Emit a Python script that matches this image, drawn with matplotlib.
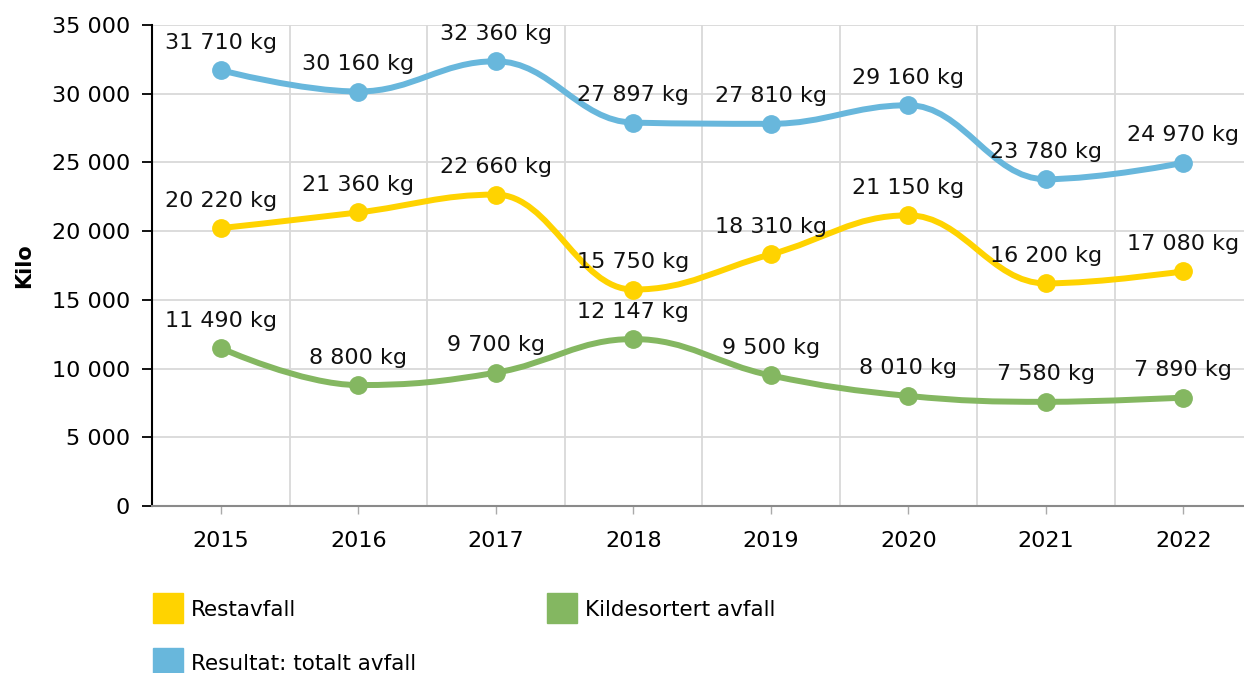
import matplotlib
matplotlib.use('Agg')
import matplotlib.pyplot as plt
from matplotlib.path import Path
from matplotlib.patches import PathPatch
from matplotlib.lines import Line2D
from matplotlib.ticker import FuncFormatter

plt.rcParams['font.family'] = ['DejaVu Sans']

years = ['2015', '2016', '2017', '2018', '2019', '2020', '2021', '2022']
restavfall = [20220, 21360, 22660, 15750, 18310, 21150, 16200, 17080]
kildesortert = [11490, 8800, 9700, 12147, 9500, 8010, 7580, 7890]
totalt = [31710, 30160, 32360, 27897, 27810, 29160, 23780, 24970]

series = [
    ('Restavfall', restavfall, '#ffd300'),
    ('Resultat: totalt avfall', totalt, '#68b7dc'),
    ('Kildesortert avfall', kildesortert, '#84b761'),
]


def fmt_num(v):
    return f'{int(v):,}'.replace(',', ' ')


def spline_path(xs, ys, smoothing=1.5):
    """Highcharts-lignende spline med bezier-kontrollpunkter."""
    n = len(xs)
    ctrl = []
    for i in range(n):
        x, y = xs[i], ys[i]
        if 0 < i < n - 1:
            px, py = xs[i - 1], ys[i - 1]
            nx, ny = xs[i + 1], ys[i + 1]
            d = smoothing + 1
            lcx = (smoothing * x + px) / d
            lcy = (smoothing * y + py) / d
            rcx = (smoothing * x + nx) / d
            rcy = (smoothing * y + ny) / d
            if rcx != lcx:
                corr = (rcy - lcy) * (rcx - x) / (rcx - lcx) + y - rcy
                lcy += corr
                rcy += corr
            if lcy > py and lcy > y:
                lcy = max(py, y)
                rcy = 2 * y - lcy
            elif lcy < py and lcy < y:
                lcy = min(py, y)
                rcy = 2 * y - lcy
            if rcy > ny and rcy > y:
                rcy = max(ny, y)
                lcy = 2 * y - rcy
            elif rcy < ny and rcy < y:
                rcy = min(ny, y)
                lcy = 2 * y - rcy
        else:
            lcx, lcy, rcx, rcy = x, y, x, y
        ctrl.append((lcx, lcy, rcx, rcy))

    verts = [(xs[0], ys[0])]
    codes = [Path.MOVETO]
    for i in range(1, n):
        verts += [(ctrl[i - 1][2], ctrl[i - 1][3]), (ctrl[i][0], ctrl[i][1]), (xs[i], ys[i])]
        codes += [Path.CURVE4] * 3
    return Path(verts, codes)


fig = plt.figure(figsize=(12.44, 6.73), dpi=100)
ax = fig.add_axes([152 / 1244, 167 / 673, 1100 / 1244, 481 / 673])

x = list(range(len(years)))

for name, vals, color in series:
    ax.add_patch(PathPatch(spline_path(x, vals), facecolor='none', edgecolor=color,
                           linewidth=4.3, capstyle='round', zorder=3))
    ax.plot(x, vals, 'o', color=color, markersize=12.5, zorder=4)
    for xi, v in zip(x, vals):
        ax.annotate(f'{fmt_num(v)} kg', (xi, v), xytext=(0, 15.5), textcoords='offset points',
                    ha='center', va='baseline', fontsize=16, color='#111111', zorder=5)

ax.set_xlim(-0.5, len(years) - 0.5)
ax.set_ylim(0, 35000)
ax.set_yticks(range(0, 35001, 5000))
ax.yaxis.set_major_formatter(FuncFormatter(lambda v, p: fmt_num(v)))
ax.set_xticks(x)
ax.set_xticklabels(years)
ax.set_xticks([i + 0.5 for i in x[:-1]], minor=True)

ax.grid(True, axis='y', color='#d9d9d9', linewidth=1.3)
ax.grid(True, axis='x', which='minor', color='#d9d9d9', linewidth=1.3)
ax.set_axisbelow(True)

for s in ['top', 'right']:
    ax.spines[s].set_visible(False)
ax.spines['left'].set_color('black')
ax.spines['left'].set_linewidth(1.5)
ax.spines['bottom'].set_color('#8a8a8a')
ax.spines['bottom'].set_linewidth(1.5)

ax.tick_params(axis='y', length=7, width=1.3, color='black', pad=9, labelsize=16)
ax.tick_params(axis='x', which='major', length=6, width=1, color='#aaaaaa', pad=12, labelsize=16)
ax.tick_params(axis='x', which='minor', length=0)

ax.set_ylabel('Kilo', fontsize=15, fontweight='bold')
ax.yaxis.set_label_coords(-0.107, 0.5)

handles = [Line2D([], [], marker='s', linestyle='none', color=c, markersize=21)
           for _, _, c in series]
labels = [n for n, _, _ in series]
fig.legend(handles, labels, ncol=2, loc='upper left', bbox_to_anchor=(0.118, 0.1216),
           frameon=False, fontsize=15.5, handlelength=1.2, handletextpad=0.45,
           labelspacing=1.6, columnspacing=6.2, borderaxespad=0)

fig.savefig('out.png', dpi=100)
